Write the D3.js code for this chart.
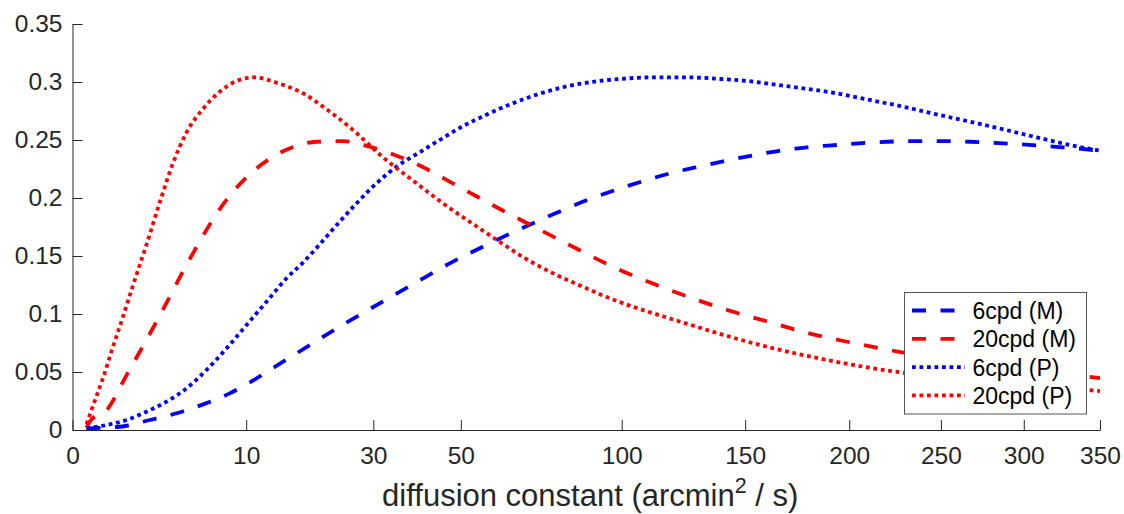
<!DOCTYPE html>
<html>
<head>
<meta charset="utf-8">
<script src="https://cdn.jsdelivr.net/npm/d3@7"></script>
<style>
  html, body { margin: 0; padding: 0; background: #fff; }
  svg { display: block; }
  text { font-family: "Liberation Sans", Arial, Helvetica, sans-serif; }
</style>
</head>
<body>
<svg id="chart" width="1124" height="514"></svg>
<script>
// Diffusion constants (arcmin^2/s) and response values for each curve
const m6D  = [0.065, 0.74, 1.98, 3.59, 5.66, 8.2, 11.23, 14.7, 18.7, 23.1, 28, 33.4, 37.4, 41.6, 48, 55, 61.5, 68.4, 77.7, 87.6, 98.1, 109.3, 119.7, 130.5, 141.8, 153.6, 164.4, 178.7, 193.6, 210.8, 228.8, 247.5, 267, 287.2, 308.2, 325, 350];
const m6V  = [0.0014, 0.0028, 0.0086, 0.0144, 0.0221, 0.0316, 0.0445, 0.0589, 0.0733, 0.0875, 0.101, 0.1143, 0.1235, 0.1325, 0.1452, 0.1567, 0.1665, 0.1758, 0.1872, 0.198, 0.2072, 0.2155, 0.222, 0.2272, 0.2322, 0.2368, 0.2403, 0.2437, 0.2457, 0.2477, 0.2489, 0.2491, 0.2485, 0.2471, 0.2454, 0.2437, 0.2408];

const m20D = [0.065, 0.099, 0.42, 0.907, 1.5, 2.34, 3.14, 4.06, 4.9, 5.95, 7.52, 9.47, 12.05, 15.66, 19.75, 24.3, 29.3, 36.25, 41.6, 47.6, 54.1, 61.5, 68.4, 76.6, 84.5, 94, 103, 113.1, 123.7, 134.7, 146.9, 160.5, 173.9, 186.9, 200.4, 214.4, 228, 260, 300, 350];
const m20V = [0.002, 0.0072, 0.0187, 0.0445, 0.0675, 0.0934, 0.115, 0.137, 0.154, 0.1725, 0.1945, 0.2135, 0.23, 0.2428, 0.2485, 0.2491, 0.2442, 0.2342, 0.225, 0.2133, 0.2015, 0.189, 0.1785, 0.1667, 0.156, 0.144, 0.1342, 0.125, 0.1164, 0.1083, 0.1006, 0.0934, 0.0862, 0.0804, 0.0756, 0.071, 0.067, 0.059, 0.052, 0.0448];

const p6D  = [0.065, 0.38, 0.97, 1.82, 2.93, 4.31, 5.95, 7.87, 10.04, 12.48, 15.19, 17.64, 20, 23.1, 26.75, 30.65, 34.8, 40, 44.7, 49.75, 56.8, 64.4, 72.4, 80.9, 89.9, 99.3, 111.8, 125, 139, 153.6, 161.2, 177, 193.6, 210.8, 228.8, 247.5, 267, 287.2, 308.2, 329.8, 350];
const p6V  = [0.0014, 0.0043, 0.0086, 0.0158, 0.0244, 0.0359, 0.0517, 0.0704, 0.0905, 0.1106, 0.1308, 0.1445, 0.1585, 0.1765, 0.1954, 0.2127, 0.227, 0.2395, 0.25, 0.2605, 0.2718, 0.2818, 0.29, 0.2962, 0.3002, 0.3026, 0.304, 0.304, 0.3026, 0.3003, 0.2983, 0.2946, 0.2902, 0.2845, 0.2787, 0.2721, 0.2658, 0.2592, 0.2523, 0.2457, 0.2408];

const p20D = [0.065, 0.14, 0.31, 0.546, 0.849, 1.218, 1.82, 2.53, 3.36, 4.31, 5.66, 7.2, 8.92, 11.02, 13.8, 17.64, 21.4, 26.1, 31.3, 40, 44.7, 49.75, 55, 60.6, 68.4, 76.6, 85.4, 94.4, 104.2, 114.4, 125, 136.1, 147.7, 160.5, 173.9, 186.9, 200.4, 214.4, 228, 260, 300, 341, 350];
const p20V = [0.005, 0.021, 0.045, 0.072, 0.098, 0.125, 0.16, 0.1965, 0.2305, 0.2565, 0.277, 0.2917, 0.3008, 0.304, 0.2994, 0.2902, 0.2765, 0.2586, 0.2375, 0.2105, 0.1975, 0.1852, 0.1737, 0.162, 0.1472, 0.135, 0.1245, 0.1148, 0.1062, 0.0988, 0.0917, 0.0846, 0.0779, 0.0715, 0.0658, 0.061, 0.0566, 0.0527, 0.0495, 0.0442, 0.039, 0.0345, 0.0336];

const seriesNames = ["6cpd (M)", "20cpd (M)", "6cpd (P)", "20cpd (P)"];
const xTicks = [0, 10, 30, 50, 100, 150, 200, 250, 300, 350];
const yTicks = [0, 0.05, 0.1, 0.15, 0.2, 0.25, 0.3, 0.35];
const xLabel = "diffusion constant (arcmin";
const xLabelSup = "2";
const xLabelTail = " / s)";

const series = [
  { name: seriesNames[0], D: m6D,  V: m6V,  color: "#0000ff", style: "dash" },
  { name: seriesNames[1], D: m20D, V: m20V, color: "#ff0000", style: "dash" },
  { name: seriesNames[2], D: p6D,  V: p6V,  color: "#0000ff", style: "dot" },
  { name: seriesNames[3], D: p20D, V: p20V, color: "#ff0000", style: "dot" }
];

const dashPattern = { dash: "14,14.5", dot: "3.8,3.7" };
const lineWidth = 3.8;
const axisColor = "#262626";

const svg = d3.select("#chart");
const plotLeft = 72.5, plotRight = 1100, plotTop = 24, plotBottom = 430;

const x = d3.scaleSqrt().domain([0, 350]).range([plotLeft, plotRight]);
const y = d3.scaleLinear().domain([0, 0.35]).range([plotBottom, plotTop]);

// Curves
const line = d3.line()
  .x(d => x(d[0]))
  .y(d => y(d[1]))
  .curve(d3.curveMonotoneX);

svg.append("g").selectAll("path")
  .data(series)
  .join("path")
  .attr("d", s => line(s.D.map((d, i) => [d, s.V[i]])))
  .attr("fill", "none")
  .attr("stroke", s => s.color)
  .attr("stroke-width", lineWidth)
  .attr("stroke-dasharray", s => dashPattern[s.style])
  .attr("stroke-linecap", "butt");

// Axes (ticks pointing inward)
const yAxis = d3.axisLeft(y)
  .tickValues(yTicks)
  .tickFormat(d => d === 0 ? "0" : String(+d.toFixed(2)))
  .tickSizeInner(-10)
  .tickSizeOuter(0)
  .tickPadding(10);

const xAxis = d3.axisBottom(x)
  .tickValues(xTicks)
  .tickFormat(d => String(d))
  .tickSizeInner(-10)
  .tickSizeOuter(0)
  .tickPadding(17);

const gy = svg.append("g").attr("transform", `translate(${plotLeft},0)`).call(yAxis);
const gx = svg.append("g").attr("transform", `translate(0,${plotBottom})`).call(xAxis);

[gx, gy].forEach(g => {
  g.select(".domain").attr("stroke", axisColor).attr("stroke-width", 1);
  g.selectAll(".tick line").attr("stroke", axisColor).attr("stroke-width", 1);
  g.selectAll(".tick text")
    .attr("fill", axisColor)
    .style("font-family", "'Liberation Sans', Arial, Helvetica, sans-serif")
    .style("font-size", "24.5px");
});

// X axis label with superscript
const xl = svg.append("text")
  .attr("x", (plotLeft + plotRight) / 2 + 4)
  .attr("y", 506)
  .attr("text-anchor", "middle")
  .attr("fill", axisColor)
  .style("font-size", "31px");
xl.append("tspan").text(xLabel);
xl.append("tspan").attr("dy", -13).style("font-size", "21.5px").text(xLabelSup);
xl.append("tspan").attr("dy", 13).text(xLabelTail);

// Legend
const lg = svg.append("g");
const lx0 = 904.5, ly0 = 292.5, lw = 182, lh = 121.5;
lg.append("rect")
  .attr("x", lx0).attr("y", ly0)
  .attr("width", lw).attr("height", lh)
  .attr("fill", "#fff")
  .attr("stroke", "#555")
  .attr("stroke-width", 1);

const rowH = 28.3;
const rows = lg.selectAll("g.row")
  .data(series)
  .join("g")
  .attr("class", "row")
  .attr("transform", (s, i) => `translate(0,${310.5 + i * rowH})`);

rows.append("line")
  .attr("x1", 912).attr("x2", 965)
  .attr("y1", 0).attr("y2", 0)
  .attr("stroke", s => s.color)
  .attr("stroke-width", lineWidth)
  .attr("stroke-dasharray", s => dashPattern[s.style]);

rows.append("text")
  .attr("x", 972.5)
  .attr("y", 8.5)
  .attr("fill", "#000")
  .style("font-size", "23px")
  .text(s => s.name);
</script>
</body>
</html>
